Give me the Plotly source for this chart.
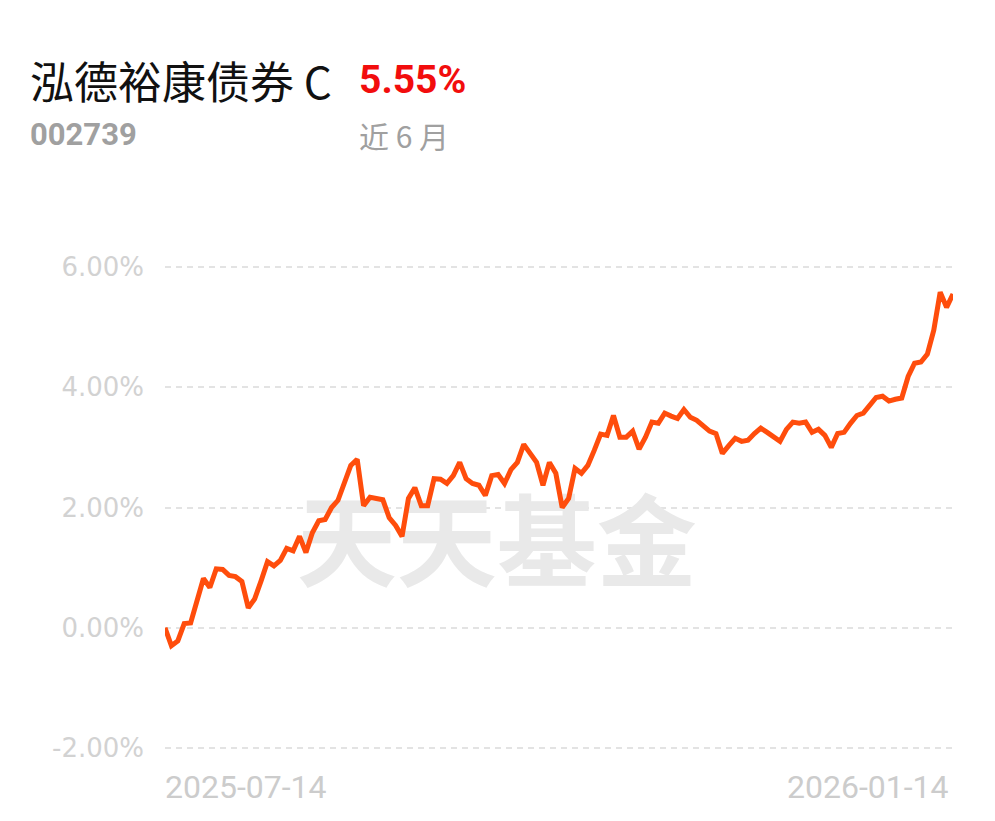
import plotly.graph_objects as go

# ---- data (approximate cumulative return, %) ----
start_date = "2025-07-14"
end_date = "2026-01-14"
fund_name = "泓德裕康债券 C"
fund_code = "002739"
period_label = "近 6 月"
period_return = "5.55%"

returns = [
    0.00, -0.30, -0.22, 0.07, 0.08, 0.45, 0.82, 0.67, 0.98, 0.97,
    0.87, 0.85, 0.77, 0.33, 0.48, 0.78, 1.10, 1.03, 1.12, 1.32,
    1.28, 1.52, 1.25, 1.58, 1.78, 1.80,
    2.00, 2.12, 2.42, 2.70, 2.80, 2.03, 2.17, 2.15, 2.13, 1.83,
    1.70, 1.52, 2.15, 2.33, 2.03, 2.03, 2.48, 2.47, 2.40, 2.53,
    2.75, 2.48, 2.40, 2.37, 2.20,
    2.53, 2.55,
    2.40, 2.63, 2.75, 3.05, 2.90, 2.75, 2.37, 2.75, 2.57, 2.00,
    2.15, 2.65, 2.57, 2.70, 2.95, 3.22, 3.20, 3.53, 3.17, 3.17,
    3.27, 2.97, 3.17, 3.42, 3.40, 3.57,
    3.52, 3.48, 3.63, 3.50, 3.45, 3.37, 3.27, 3.23, 2.90, 3.03,
    3.15, 3.10, 3.12, 3.23, 3.32, 3.25, 3.18, 3.10, 3.30, 3.42,
    3.40, 3.42, 3.25, 3.30, 3.20, 3.00, 3.23,
    3.25, 3.40, 3.53, 3.57, 3.70, 3.83, 3.85, 3.77, 3.80, 3.82,
    4.18, 4.40, 4.42, 4.55, 4.95, 5.58, 5.33, 5.55,
]
y_ticks = [-2, 0, 2, 4, 6]
y_tick_labels = ["-2.00%", "0.00%", "2.00%", "4.00%", "6.00%"]

n = len(returns)
xs = list(range(n))

# ---- layout geometry (page body has an 8px margin) ----
W, H = 995, 821
OFF = 8
ML, MR, MT, MB = 157, 50, 256, 78
PW = W - ML - MR
PH = H - MT - MB


def px(xpage):
    return (xpage - OFF - ML) / PW


def py(ypage):
    return 1 - (ypage - OFF - MT) / PH


fig = go.Figure()

# watermark (drawn first so the line sits above it)
fig.add_trace(go.Scatter(
    x=[(n - 1) * 0.421], y=[1.22], mode="text", text=["天天基金"],
    textfont=dict(family="Noto Sans CJK SC", size=100, color="#e9e9e9", weight="bold"),
    hoverinfo="skip", showlegend=False,
))

fig.add_trace(go.Scatter(
    x=xs, y=returns, mode="lines",
    line=dict(color="#ff4d0c", width=5, shape="linear"),
    hoverinfo="skip", showlegend=False,
))


def ann(text, xpage, ypage, xanchor, size, color, family):
    return dict(text=text, xref="paper", yref="paper", x=px(xpage), y=py(ypage),
                xanchor=xanchor, yanchor="middle", showarrow=False,
                font=dict(family=family, size=size, color=color))


fig.update_layout(
    width=W, height=H,
    paper_bgcolor="white", plot_bgcolor="white",
    margin=dict(l=ML, r=MR, t=MT, b=MB),
    showlegend=False,
    xaxis=dict(range=[0, n - 1], showgrid=False, zeroline=False,
               showticklabels=False, showline=False, fixedrange=True),
    yaxis=dict(range=[-2.05, 6.05], tickvals=y_ticks, ticktext=y_tick_labels,
               showgrid=True, gridcolor="#e3e3e3", gridwidth=2, griddash="6px,5px",
               zeroline=False, showline=False, ticks="",
               ticklabelstandoff=20,
               tickfont=dict(family="DejaVu Sans", size=26, color="#d2d2d2")),
    annotations=[
        ann(fund_name, 28, 80, "left", 44, "#111111", "Noto Sans CJK SC"),
        ann(f"<b>{period_return}</b>", 357, 80, "left", 39, "#f20d0d", "Roboto"),
        ann(f"<b>{fund_code}</b>", 28, 135, "left", 31, "#a0a0a0", "Roboto"),
        ann(period_label, 357, 135, "left", 30, "#a0a0a0", "Noto Sans CJK SC"),
        ann(start_date, 163, 787, "left", 32, "#cccccc", "Roboto"),
        ann(end_date, 951, 787, "right", 32, "#cccccc", "Roboto"),
    ],
)

fig.write_html("out.html", config={"displayModeBar": False})
